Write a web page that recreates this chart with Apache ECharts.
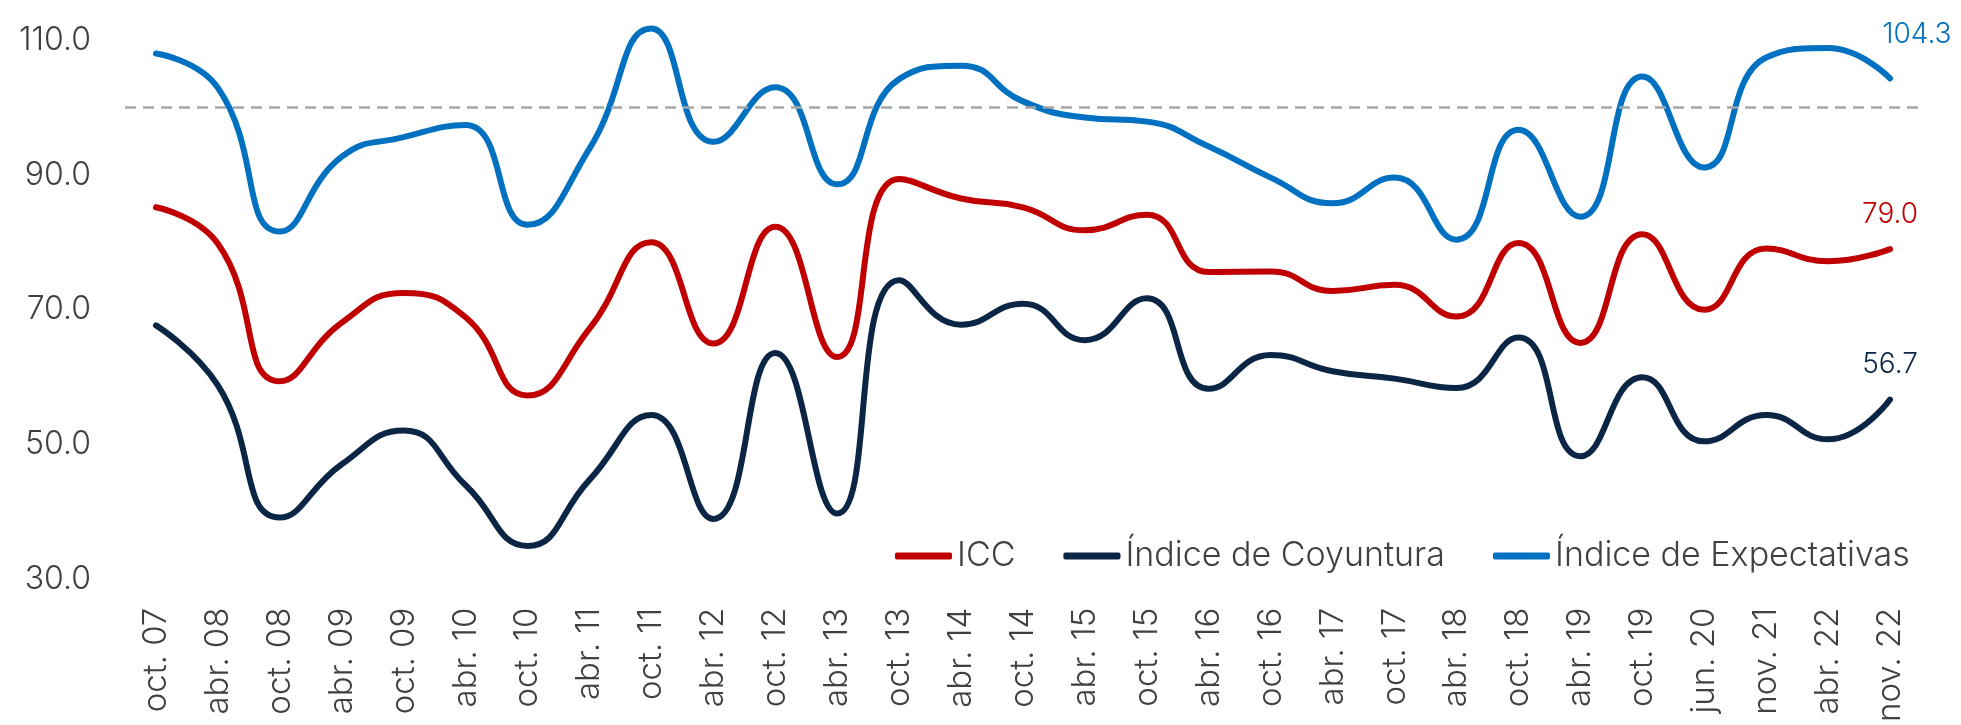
<!DOCTYPE html>
<html>
<head>
<meta charset="utf-8">
<script src="https://cdn.jsdelivr.net/npm/echarts@6/dist/echarts.min.js"></script>
<style>
  html, body { margin: 0; padding: 0; background: #fff; }
  #chart { width: 1961px; height: 725px; }
</style>
</head>
<body>
<div id="chart"></div>
<script>
const categories = [
  "oct. 07", "abr. 08", "oct. 08", "abr. 09", "oct. 09", "abr. 10", "oct. 10",
  "abr. 11", "oct. 11", "abr. 12", "oct. 12", "abr. 13", "oct. 13", "abr. 14",
  "oct. 14", "abr. 15", "oct. 15", "abr. 16", "oct. 16", "abr. 17", "oct. 17",
  "abr. 18", "oct. 18", "abr. 19", "oct. 19", "jun. 20", "nov. 21", "abr. 22",
  "nov. 22"
]

const icc = [
  85.2, 79.8, 59.4, 68.1, 72.5, 68.9, 57.3, 67.2, 80.0, 65.0, 82.3, 63.0, 89.4,
  86.5, 85.2, 81.8, 84.1, 75.6, 75.7, 72.8, 73.7, 69.0, 79.9, 65.1, 81.2, 70.0,
  79.1, 77.2, 79.0
]

const coyuntura = [
  67.7, 58.8, 39.2, 47.1, 52.1, 44.0, 35.0, 44.8, 54.4, 39.0, 63.6, 39.8, 74.4,
  67.8, 70.9, 65.5, 71.7, 58.3, 63.3, 60.9, 59.8, 58.4, 65.9, 48.3, 60.0, 50.5,
  54.4, 50.8, 56.7
]

const expectativas = [
  108.0, 102.9, 81.6, 92.7, 95.6, 97.4, 82.6, 93.9, 111.7, 94.9, 103.0, 88.6,
  104.2, 106.2, 100.9, 98.5, 97.9, 94.2, 89.6, 85.8, 89.6, 80.4, 96.7, 83.8,
  104.6, 91.1, 107.4, 108.8, 104.3
]

const neutralLevel = 100

const font = "Inter, 'Open Sans', sans-serif"
const textColor = "#404040"

// only the last point gets a value label
function withEndLabel(values, color, offset) {
  return values.map((v, i) => {
    if (i !== values.length - 1) return v
    return {
      value: v,
      label: {
        show: true,
        position: "top",
        distance: 21,
        offset: offset,
        color: color,
        fontSize: 28,
        fontWeight: 300,
        fontFamily: font,
        formatter: (p) => p.value.toFixed(1)
      }
    }
  })
}

function lineSeries(name, values, color, offset) {
  return {
    name: name,
    type: "line",
    smooth: 0.5,
    clip: false,
    showSymbol: true,
    symbol: "circle",
    symbolSize: 0,
    lineStyle: { color: color, width: 6, cap: "round" },
    itemStyle: { color: color },
    data: withEndLabel(values, color, offset)
  }
}

const chart = echarts.init(document.getElementById("chart"), null, {
  renderer: "canvas"
})

const blueSeries = lineSeries("Índice de Expectativas", expectativas, "#0070C0", [27, -9])
blueSeries.markLine = {
  silent: true,
  symbol: "none",
  label: { show: false },
  lineStyle: { color: "#a6a6a6", type: [11, 7], width: 2.5 },
  data: [{ yAxis: neutralLevel }]
}

chart.setOption({
  animation: false,
  backgroundColor: "#fff",
  textStyle: { fontFamily: font, fontWeight: 300 },
  grid: { left: 125, right: 40, top: 40, bottom: 141 },
  legend: {
    left: 890,
    top: 534,
    icon: "roundRect",
    itemWidth: 57,
    itemHeight: 7,
    itemGap: 48,
    textStyle: { color: textColor, fontSize: 34, fontWeight: 300, fontFamily: font },
    data: ["ICC", "Índice de Coyuntura", "Índice de Expectativas"]
  },
  xAxis: {
    type: "category",
    boundaryGap: true,
    data: categories,
    axisLine: { show: false },
    axisTick: { show: false },
    axisLabel: {
      interval: 0,
      rotate: 90,
      margin: 28,
      color: textColor,
      fontSize: 33,
      fontWeight: 300,
      fontFamily: font
    }
  },
  yAxis: {
    type: "value",
    min: 30,
    max: 110,
    interval: 20,
    axisLine: { show: false },
    axisTick: { show: false },
    splitLine: { show: false },
    axisLabel: {
      margin: 34,
      color: textColor,
      fontSize: 32,
      fontWeight: 300,
      fontFamily: font,
      formatter: (v) => v.toFixed(1)
    }
  },
  series: [
    lineSeries("ICC", icc, "#C00000", [0, 0]),
    lineSeries("Índice de Coyuntura", coyuntura, "#0B2545", [0, 0]),
    blueSeries
  ]
})
</script>
</body>
</html>
